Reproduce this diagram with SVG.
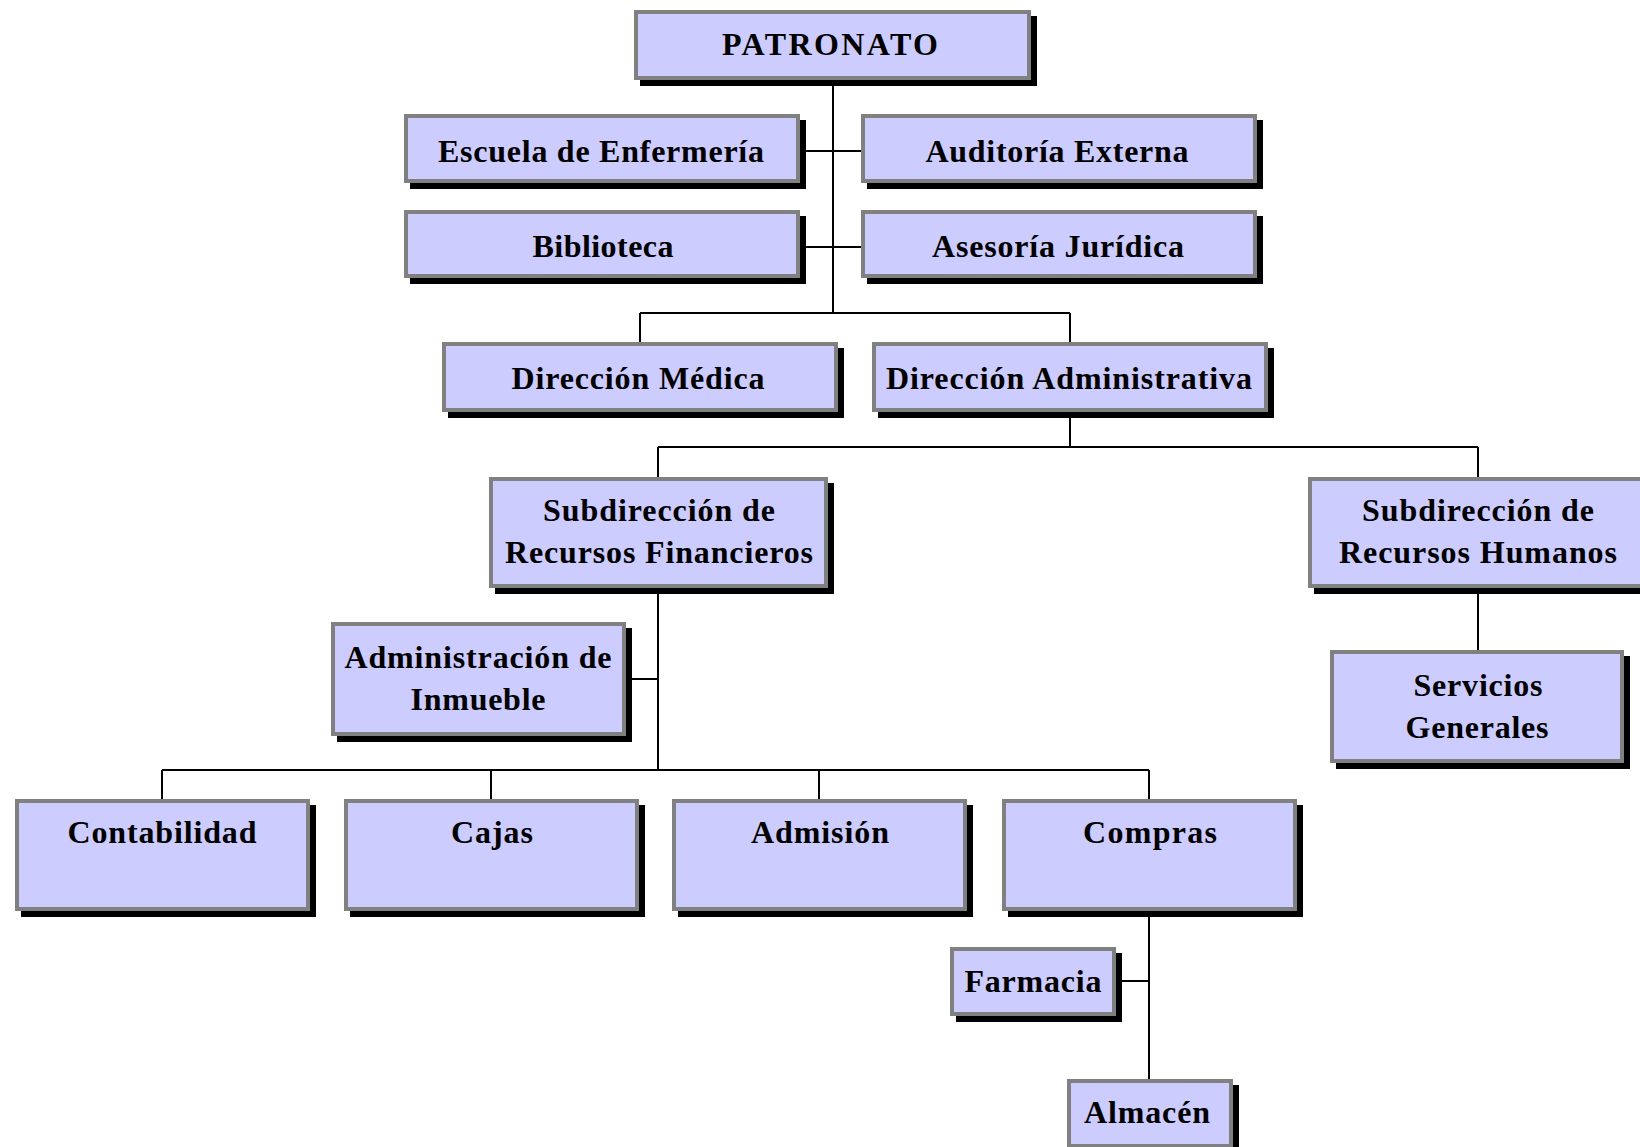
<svg xmlns="http://www.w3.org/2000/svg" width="1640" height="1147" viewBox="0 0 1640 1147">
<style>
.sh{fill:#000}
.bx{fill:#CCCCFF;stroke:#808080;stroke-width:4}
.t{font-family:"Liberation Serif","Times New Roman",serif;font-weight:bold;font-size:32px;fill:#000;text-anchor:middle}
.c{stroke:#000;stroke-width:2;fill:none}
</style>
<rect width="1640" height="1147" fill="#fff"/>
<g id="connectors">
<path class="c" d="M833 80V313M800 151H861M800 247H861M640 313H1070M640 313V342M1070 313V342"/>
<path class="c" d="M1070 412V447M658 447H1478M658 447V477M1478 447V477"/>
<path class="c" d="M658 588V770M626 679H658M162 770H1149M162 770V799M491 770V799M819 770V799M1149 770V799"/>
<path class="c" d="M1149 911V1079M1116 981H1149M1478 588V650"/>
</g>
<g id="patronato"><rect class="sh" x="640" y="16" width="397" height="70"/><rect class="bx" x="636" y="12" width="393" height="66"/><text class="t" x="830" y="55" textLength="216" lengthAdjust="spacing">PATRONATO</text></g>
<g id="escuela"><rect class="sh" x="410" y="120" width="396" height="69"/><rect class="bx" x="406" y="116" width="392" height="65"/><text class="t" x="601" y="162" textLength="326" lengthAdjust="spacing">Escuela de Enfermería</text></g>
<g id="auditoria"><rect class="sh" x="867" y="120" width="396" height="69"/><rect class="bx" x="863" y="116" width="392" height="65"/><text class="t" x="1057" y="162" textLength="263" lengthAdjust="spacing">Auditoría Externa</text></g>
<g id="biblioteca"><rect class="sh" x="410" y="216" width="396" height="68"/><rect class="bx" x="406" y="212" width="392" height="64"/><text class="t" x="603" y="257" textLength="141" lengthAdjust="spacing">Biblioteca</text></g>
<g id="asesoria"><rect class="sh" x="867" y="216" width="396" height="68"/><rect class="bx" x="863" y="212" width="392" height="64"/><text class="t" x="1058" y="257" textLength="252" lengthAdjust="spacing">Asesoría Jurídica</text></g>
<g id="dir-medica"><rect class="sh" x="448" y="348" width="396" height="70"/><rect class="bx" x="444" y="344" width="392" height="66"/><text class="t" x="638" y="389" textLength="253" lengthAdjust="spacing">Dirección Médica</text></g>
<g id="dir-admin"><rect class="sh" x="878" y="348" width="396" height="70"/><rect class="bx" x="874" y="344" width="392" height="66"/><text class="t" x="1069" y="389" textLength="366" lengthAdjust="spacing">Dirección Administrativa</text></g>
<g id="sub-rf"><rect class="sh" x="495" y="483" width="339" height="111"/><rect class="bx" x="491" y="479" width="335" height="107"/><text class="t" x="659" y="521" textLength="232" lengthAdjust="spacing">Subdirección de</text><text class="t" x="659" y="563" textLength="308" lengthAdjust="spacing">Recursos Financieros</text></g>
<g id="sub-rh"><rect class="sh" x="1314" y="483" width="340" height="111"/><rect class="bx" x="1310" y="479" width="336" height="107"/><text class="t" x="1478" y="521" textLength="232" lengthAdjust="spacing">Subdirección de</text><text class="t" x="1478" y="563" textLength="278" lengthAdjust="spacing">Recursos Humanos</text></g>
<g id="adm-inmueble"><rect class="sh" x="337" y="628" width="295" height="114"/><rect class="bx" x="333" y="624" width="291" height="110"/><text class="t" x="478" y="668" textLength="267" lengthAdjust="spacing">Administración de</text><text class="t" x="478" y="710" textLength="135" lengthAdjust="spacing">Inmueble</text></g>
<g id="servicios"><rect class="sh" x="1336" y="656" width="294" height="113"/><rect class="bx" x="1332" y="652" width="290" height="109"/><text class="t" x="1478" y="696" textLength="129" lengthAdjust="spacing">Servicios</text><text class="t" x="1477" y="738" textLength="143" lengthAdjust="spacing">Generales</text></g>
<g id="contabilidad"><rect class="sh" x="21" y="805" width="295" height="112"/><rect class="bx" x="17" y="801" width="291" height="108"/><text class="t" x="162" y="843" textLength="189" lengthAdjust="spacing">Contabilidad</text></g>
<g id="cajas"><rect class="sh" x="350" y="805" width="295" height="112"/><rect class="bx" x="346" y="801" width="291" height="108"/><text class="t" x="492" y="843" textLength="82" lengthAdjust="spacing">Cajas</text></g>
<g id="admision"><rect class="sh" x="678" y="805" width="295" height="112"/><rect class="bx" x="674" y="801" width="291" height="108"/><text class="t" x="820" y="843" textLength="138" lengthAdjust="spacing">Admisión</text></g>
<g id="compras"><rect class="sh" x="1008" y="805" width="295" height="112"/><rect class="bx" x="1004" y="801" width="291" height="108"/><text class="t" x="1150" y="843" textLength="134" lengthAdjust="spacing">Compras</text></g>
<g id="farmacia"><rect class="sh" x="956" y="953" width="166" height="69"/><rect class="bx" x="952" y="949" width="162" height="65"/><text class="t" x="1033" y="992" textLength="137" lengthAdjust="spacing">Farmacia</text></g>
<g id="almacen"><rect class="sh" x="1073" y="1085" width="166" height="69"/><rect class="bx" x="1069" y="1081" width="162" height="65"/><text class="t" x="1147" y="1123" textLength="126" lengthAdjust="spacing">Almacén</text></g>
</svg>
